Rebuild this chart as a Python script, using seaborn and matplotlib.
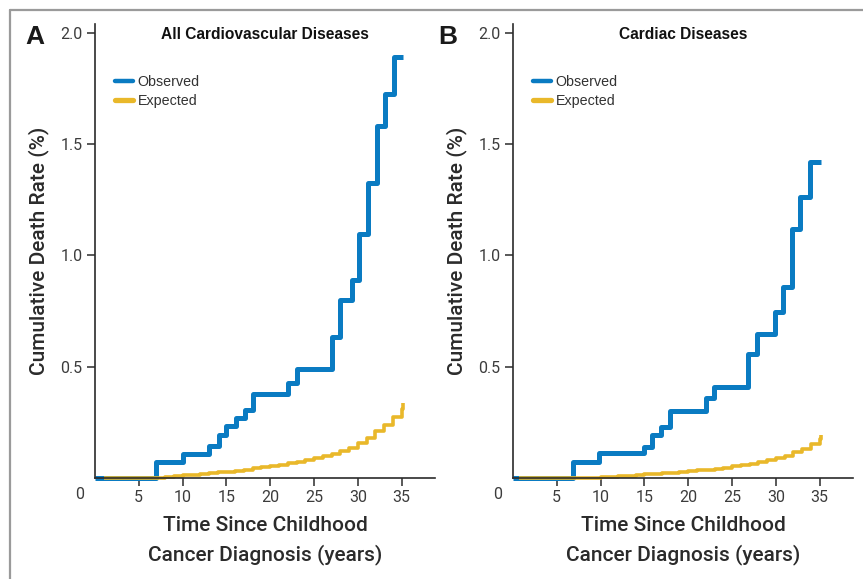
import matplotlib
matplotlib.use('Agg')
import matplotlib.pyplot as plt
from matplotlib.lines import Line2D
import pandas as pd
import seaborn as sns

# Panel A: all cardiovascular diseases
obs_a_t = [0, 7, 10, 13, 14.1, 15, 16.1, 17.1, 18.05, 22.05, 23, 27, 28, 29.3, 30.1, 31.2, 32.2, 33.1, 34.1, 35.2]
obs_a_v = [0, 0.074, 0.11, 0.146, 0.194, 0.232, 0.27, 0.304, 0.378, 0.428, 0.488, 0.633, 0.80, 0.89, 1.097, 1.326, 1.58, 1.725, 1.89, 1.89]
exp_a_t = [1, 7, 8, 9, 10, 11, 12, 13, 14, 15, 16, 17, 18, 19, 20, 21, 22, 23, 24, 25,
           26, 27, 28, 29, 30, 31, 32, 33, 34, 35, 35.1]
exp_a_v = [0, 0, 0.004, 0.008, 0.012, 0.015, 0.018, 0.021, 0.025, 0.028, 0.033, 0.038, 0.043, 0.048, 0.054, 0.060,
           0.066, 0.073, 0.080, 0.089, 0.098, 0.108, 0.120, 0.137, 0.156, 0.180, 0.210, 0.240, 0.275, 0.310, 0.335]

# Panel B: cardiac diseases
obs_b_t = [0, 6.8, 9.85, 14.9, 15.9, 16.9, 17.9, 22.0, 22.9, 26.8, 27.9, 29.9, 30.8, 31.8, 32.8, 33.9, 35.1]
obs_b_v = [0, 0.074, 0.111, 0.141, 0.194, 0.229, 0.30, 0.36, 0.41, 0.558, 0.645, 0.746, 0.856, 1.12, 1.263, 1.42, 1.42]
exp_b_t = [0.7, 8, 9, 10, 11, 12, 13, 14, 15, 16, 17, 18, 19, 20, 21, 22, 23, 24, 25,
           26, 27, 28, 29, 30, 31, 32, 33, 34, 35, 35.1]
exp_b_v = [0, 0, 0.002, 0.004, 0.006, 0.008, 0.010, 0.013, 0.016, 0.018, 0.021, 0.024, 0.027, 0.031, 0.034,
           0.038, 0.042, 0.047, 0.052, 0.058, 0.064, 0.071, 0.079, 0.089, 0.100, 0.115, 0.132, 0.152, 0.175, 0.195]

panels = [
    ('A', 'All Cardiovascular Diseases', obs_a_t, obs_a_v, exp_a_t, exp_a_v),
    ('B', 'Cardiac Diseases', obs_b_t, obs_b_v, exp_b_t, exp_b_v),
]

BLUE = '#0a7bc2'
GOLD = '#e9b82a'
INK = '#2b2b2b'
NARROW = ['Roboto', 'DejaVu Sans']

sns.set_style('ticks')
plt.rcParams['font.family'] = ['Liberation Sans', 'DejaVu Sans']

fig = plt.figure(figsize=(8.63, 5.79), dpi=100)
W, H = 863, 579

# gray frame around the figure (left and top edges visible)
fig.add_artist(Line2D([10 / W, 10 / W], [0, 1 - 10 / H], transform=fig.transFigure, color='#9a9a9a', lw=1.6))
fig.add_artist(Line2D([10 / W, 1], [1 - 10 / H, 1 - 10 / H], transform=fig.transFigure, color='#9a9a9a', lw=1.6))

for i, (letter, title, ot, ov, et, ev) in enumerate(panels):
    left = [95, 513][i]
    ax = fig.add_axes([left / W, 101 / H, 340 / W, 454 / H])

    obs_df = pd.DataFrame({'t': ot, 'v': ov})
    exp_df = pd.DataFrame({'t': et, 'v': ev})
    sns.lineplot(data=obs_df, x='t', y='v', ax=ax, color=BLUE, lw=3.6, drawstyle='steps-post',
                 estimator=None, sort=False, solid_capstyle='butt', clip_on=False)
    sns.lineplot(data=exp_df, x='t', y='v', ax=ax, color=GOLD, lw=2.6, drawstyle='steps-post',
                 estimator=None, sort=False, solid_capstyle='butt', clip_on=False)

    ax.set_xlim(0, 38.8)
    ax.set_ylim(0, 2.04)
    ax.set_xticks([5, 10, 15, 20, 25, 30, 35])
    ax.set_yticks([0.5, 1.0, 1.5, 2.0])
    ax.set_yticklabels(['0.5', '1.0', '1.5', '2.0'])
    for lab in ax.get_xticklabels() + ax.get_yticklabels():
        lab.set_family(NARROW)
        lab.set_fontsize(11.5)
        lab.set_color('#3c3c3c')
    ax.tick_params(direction='out', length=6, width=1.1, color=INK, pad=3)
    for s in ['left', 'bottom']:
        ax.spines[s].set_color(INK)
        ax.spines[s].set_linewidth(1.2)
    sns.despine(ax=ax)

    ax.text(-1.8, -0.072, '0', ha='center', va='center', family=NARROW, fontsize=11.5, color='#3c3c3c')

    ax.set_ylabel('Cumulative Death Rate (%)', family=NARROW, fontsize=15, weight='medium', color=INK)
    ax.yaxis.set_label_coords(-0.135, 0.5)
    ax.set_xlabel('Time Since Childhood\nCancer Diagnosis (years)', family=NARROW, fontsize=15,
                  weight='medium', color=INK, linespacing=1.6)
    ax.xaxis.set_label_coords(0.5, -0.083)

    ax.text(0.5, 0.976, title, transform=ax.transAxes, ha='center', va='center',
            fontsize=11.2, weight='bold', color='#111111')
    ax.text([-0.176, -0.191][i], 0.972, letter, transform=ax.transAxes, ha='center', va='center',
            fontsize=19, weight='bold', color='#1a1a1a')

    handles = [Line2D([], [], color=BLUE, lw=3.2), Line2D([], [], color=GOLD, lw=3.8)]
    ax.legend(handles, ['Observed', 'Expected'], loc='upper left', bbox_to_anchor=(0.06, 0.888),
              frameon=False, fontsize=10.3, handlelength=1.2, handletextpad=0.35,
              labelspacing=0.35, borderpad=0, borderaxespad=0, labelcolor='#333333')

fig.savefig('out.png', dpi=100)
